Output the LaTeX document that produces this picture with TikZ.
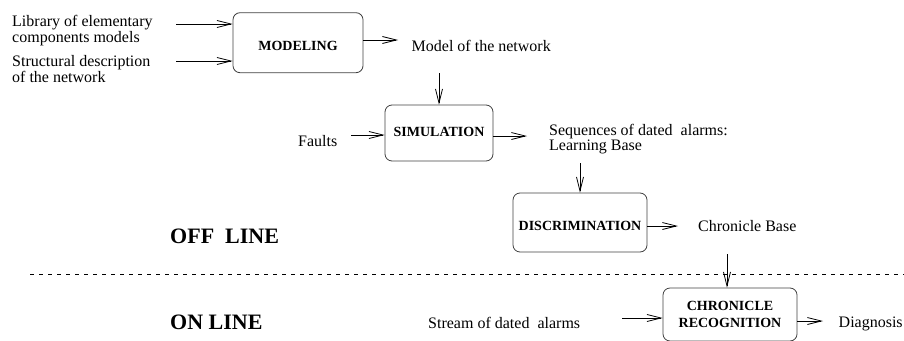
\documentclass[tikz,border=0pt]{standalone}
\usepackage{fontspec}
\setmainfont{Liberation Serif}
\usetikzlibrary{arrows.meta}
\newcommand\twolines[2]{\begin{tabular}[t]{@{}l@{}}#1\\#2\end{tabular}}
\begin{document}
\begin{tikzpicture}[x=1pt,y=-1pt,
  box/.style={draw=black!75, rounded corners=7pt, line width=0.8pt, inner sep=0pt,
    font=\fontsize{14}{17}\selectfont\bfseries, align=center},
  txt/.style={font=\fontsize{16}{15}\selectfont, inner sep=0pt, anchor=base west},
  big/.style={font=\fontsize{22}{26}\selectfont\bfseries, inner sep=0pt, anchor=base west},
  arr/.style={line width=0.8pt, -{Straight Barb[length=14pt,width=7pt,line width=0.8pt]}},
  dashline/.style={line width=0.7pt, dash pattern=on 4pt off 5pt}]
\useasboundingbox (0,0) rectangle (904,340);
\clip (0,0) rectangle (904,340);

% boxes
\node[box, minimum width=130pt, minimum height=60pt, text height=16.3pt, text depth=0pt] (mod) at (298,42.7) {MODELING};
\node[box, minimum width=108pt, minimum height=56pt, text height=7.3pt, text depth=0pt] (sim) at (439,133) {SIMULATION};
\node[box, minimum width=134pt, minimum height=59pt, text height=16.3pt, text depth=0pt] (disc) at (580,222.5) {DISCRIMINATION};
\node[box, minimum width=134pt, minimum height=53pt] (chr) at (730,314.5) {CHRONICLE\\RECOGNITION};

% texts
\node[txt] (lib) at (12,26.7) {\twolines{Library of elementary}{components models}};
\node[txt] (struct) at (12,66.7) {\twolines{Structural description}{of the network}};
\node[txt] (model) at (411.5,51) {Model of the network};
\node[txt] (faults) at (298,146.7) {Faults};
\node[txt] (seq) at (549,135) {\twolines{Sequences of dated~~alarms:}{Learning Base}};
\node[txt] (cb) at (698,231.5) {Chronicle Base};
\node[txt] (stream) at (428,328) {Stream of dated~~alarms};
\node[txt] (diag) at (838.5,327) {Diagnosis};
\node[big] (off) at (170,243) {OFF~~LINE};
\node[big] (on) at (170,329) {ON LINE};

% dashed separator
\coordinate (d1) at (30,274);
\coordinate (d2) at (904,274);
\draw[dashline] (d1) -- (d2);

% connectors
\coordinate (c1) at (176,24);
\draw[arr] (c1) -- (c1 -| mod.west);
\coordinate (c2) at (176,61);
\draw[arr] (c2) -- (c2 -| mod.west);
\coordinate (c3) at (398,40);
\draw[arr] (c3 -| mod.east) -- (c3);
\coordinate (c4) at (439,73);
\draw[arr] (c4) -- (c4 |- sim.north);
\coordinate (c5) at (351,135);
\draw[arr] (c5) -- (c5 -| sim.west);
\coordinate (c6) at (527,136);
\draw[arr] (c6 -| sim.east) -- (c6);
\coordinate (c7) at (580,163);
\draw[arr] (c7) -- (c7 |- disc.north);
\coordinate (c8) at (678,226);
\draw[arr] (c8 -| disc.east) -- (c8);
\coordinate (c9) at (727,254);
\draw[arr] (c9) -- (c9 |- chr.north);
\coordinate (c10) at (622,318);
\draw[arr] (c10) -- (c10 -| chr.west);
\coordinate (c11) at (823,321);
\draw[arr] (c11 -| chr.east) -- (c11);
\end{tikzpicture}
\end{document}
